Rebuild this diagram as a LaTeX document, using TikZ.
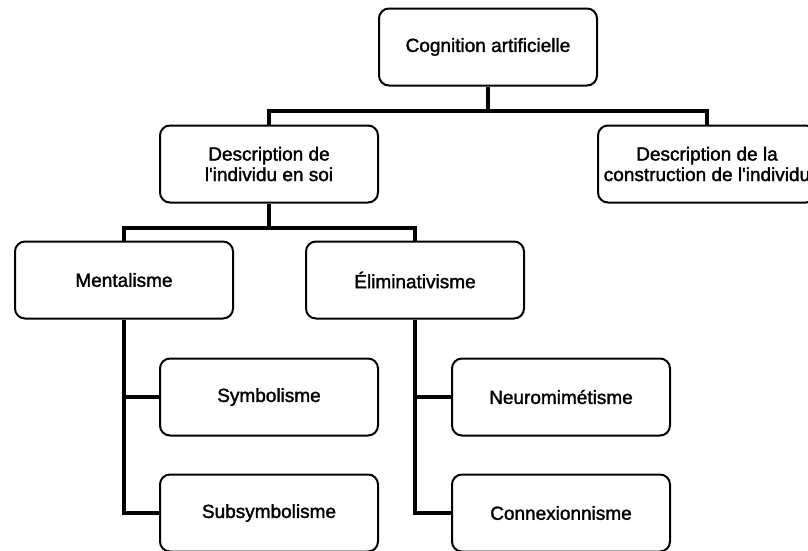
\documentclass[tikz,border=0pt]{standalone}
\usepackage{fontspec}
\setmainfont[FakeBold=1.6]{Liberation Sans}
\begin{document}
\begin{tikzpicture}[x=1pt,y=-1pt,
  box/.style={draw, line width=2pt, rounded corners=10pt, minimum width=218pt,
    minimum height=77pt, align=center, fill=white, inner sep=2pt,
    font=\fontsize{19}{20.5}\selectfont},
  wire/.style={line width=4pt, line join=miter}]
\clip (0,0) rectangle (808,550);
\fill[white] (0,0) rectangle (808,550);
\node[box] (cog) at (488,47) {Cognition artificielle};
\node[box] (d1) at (269,164) {Description de\\l\textquotesingle individu en soi};
\node[box] (d2) at (707,164) {Description de la\\construction de l\textquotesingle individu};
\node[box] (ment) at (124,280) {Mentalisme};
\node[box] (elim) at (415,280) {Éliminativisme};
\node[box] (sym) at (269,397) {Symbolisme};
\node[box] (sub) at (269,513) {Subsymbolisme};
\node[box] (neu) at (561,397) {Neuromimétisme};
\node[box] (con) at (561,513) {Connexionnisme};
\coordinate (j1) at (488,111);
\coordinate (j2) at (269,228);
\draw[wire] (cog.south) -- (j1);
\draw[wire] (d1.north) |- (j1) -| (d2.north);
\draw[wire] (d1.south) -- (j2);
\draw[wire] (ment.north) |- (j2) -| (elim.north);
\draw[wire] (ment.south) |- (sub.west);
\draw[wire] (ment.south |- sym.west) -- (sym.west);
\draw[wire] (elim.south) |- (con.west);
\draw[wire] (elim.south |- neu.west) -- (neu.west);
\end{tikzpicture}
\end{document}
